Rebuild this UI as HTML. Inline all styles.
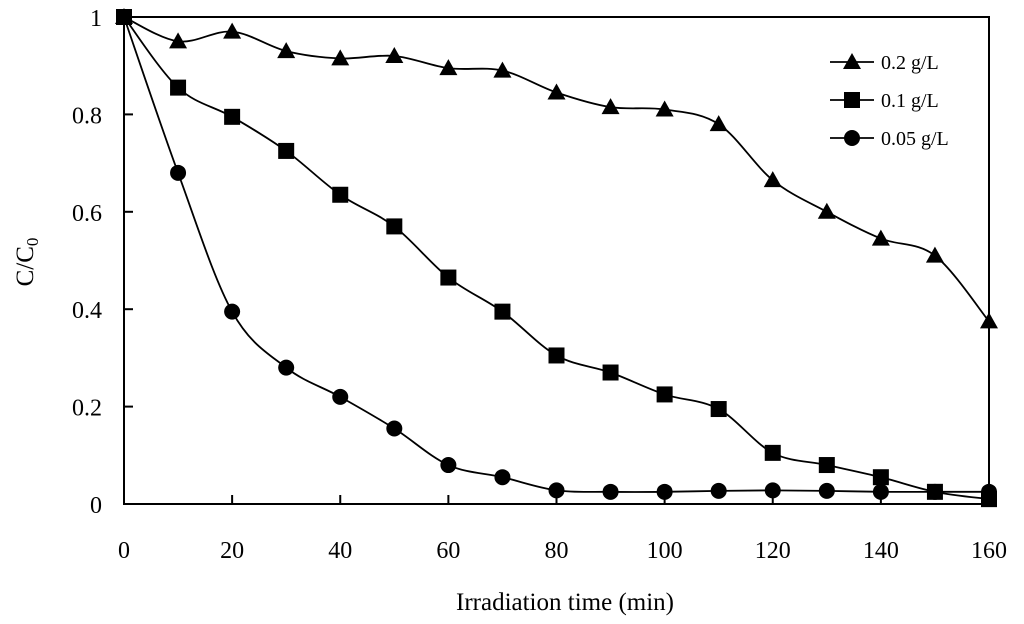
<!DOCTYPE html>
<html><head><meta charset="utf-8">
<style>
html,body{margin:0;padding:0;background:#fff;}
svg{display:block;font-family:"Liberation Serif",serif;}
</style></head>
<body>
<svg id="chart" width="1024" height="624" viewBox="0 0 1024 624" xmlns="http://www.w3.org/2000/svg">
<g id="axes"></g>
<g id="series"></g>
<g id="legend"></g>
</svg>
<script>
const times = [0,10,20,30,40,50,60,70,80,90,100,110,120,130,140,150,160];
const seriesTri = [1,0.95,0.97,0.93,0.915,0.92,0.895,0.89,0.845,0.815,0.81,0.78,0.665,0.60,0.545,0.51,0.375];
const seriesSq = [1,0.855,0.795,0.725,0.635,0.57,0.465,0.395,0.305,0.27,0.225,0.195,0.105,0.08,0.055,0.025,0.01];
const seriesCirc = [1,0.68,0.395,0.28,0.22,0.155,0.08,0.055,0.028,0.025,0.025,0.027,0.028,0.027,0.025,0.025,0.025];
const xTicks = [0,20,40,60,80,100,120,140,160];
const yTicks = [0,0.2,0.4,0.6,0.8,1];
const yTickLabels = ["0","0.2","0.4","0.6","0.8","1"];
const legendLabels = ["0.2 g/L","0.1 g/L","0.05 g/L"];

const NS="http://www.w3.org/2000/svg";
const X0=124,X1=989,Y0=504,Y1=17;
const sx=v=>X0+(v-0)/(160-0)*(X1-X0);
const sy=v=>Y0-(v-0)/(1-0)*(Y0-Y1);
function mk(tag,attrs,parent){const e=document.createElementNS(NS,tag);for(const k in attrs)e.setAttribute(k,attrs[k]);parent.appendChild(e);return e;}
const axes=document.getElementById('axes');
const frame=mk('rect',{x:X0,y:Y1,width:X1-X0,height:Y0-Y1,fill:'none',stroke:'#000','stroke-width':2},axes);


xTicks.forEach(t=>{
  const l=mk('line',{x1:sx(t),x2:sx(t),y1:Y0,y2:Y0-9,stroke:'#000','stroke-width':2},axes);
  
  
  const tx=mk('text',{x:sx(t),y:558,'text-anchor':'middle','font-size':24},axes);
  tx.textContent=t;
  
  
});
yTicks.forEach((t,i)=>{
  const l=mk('line',{x1:X0,x2:X0+9,y1:sy(t),y2:sy(t),stroke:'#000','stroke-width':2},axes);
  
  
  const tx=mk('text',{x:102,y:sy(t)+9,'text-anchor':'end','font-size':24},axes);
  tx.textContent=yTickLabels[i];
  
  
});
const xt=mk('text',{x:565,y:610,'text-anchor':'middle','font-size':25},axes);
xt.textContent='Irradiation time (min)';


const yt=mk('text',{x:0,y:0,'text-anchor':'middle','font-size':25,transform:'translate(33,262) rotate(-90)'},axes);
yt.innerHTML='C/C<tspan font-size="17" dy="5">0</tspan>';



function smoothPath(xs,ys){
  const p=xs.map((x,i)=>[sx(x),sy(ys[i])]);
  let d=`M${p[0][0]},${p[0][1]}`;
  for(let i=0;i<p.length-1;i++){
    const a=p[Math.max(0,i-1)],b=p[i],c=p[i+1],e=p[Math.min(p.length-1,i+2)];
    const t=1/6;
    d+=` C${b[0]+(c[0]-a[0])*t},${b[1]+(c[1]-a[1])*t} ${c[0]-(e[0]-b[0])*t},${c[1]-(e[1]-b[1])*t} ${c[0]},${c[1]}`;
  }
  return d;
}
function marker(kind,x,y,parent){
  let m;
  if(kind==='tri') m=mk('polygon',{points:`${x},${y-9} ${x-9},${y+7} ${x+9},${y+7}`,fill:'#000'},parent);
  else if(kind==='sq') m=mk('rect',{x:x-8,y:y-8,width:16,height:16,fill:'#000'},parent);
  else m=mk('circle',{cx:x,cy:y,r:8,fill:'#000'},parent);
  return m;
}
const sg=document.getElementById('series');
const all=[['tri',seriesTri,'series-0-2gL'],['sq',seriesSq,'series-0-1gL'],['circ',seriesCirc,'series-0-05gL']];
all.forEach(([k,vals,name])=>{
  const g=mk('g',{},sg);
  
  
  const p=mk('path',{d:smoothPath(times,vals),fill:'none',stroke:'#000','stroke-width':1.8},g);
  
  
  vals.forEach((v,i)=>{
    const m=marker(k,sx(times[i]),sy(v),g);
    
    
  });
});
const lg=document.getElementById('legend');
all.forEach(([k],i)=>{
  const y=62+i*38;
  const g=mk('g',{},lg);
  
  
  mk('line',{x1:830,x2:874,y1:y,y2:y,stroke:'#000','stroke-width':1.8},g);
  marker(k,852,y,g);
  const t=mk('text',{x:881,y:y+7,'font-size':20},g);
  t.textContent=legendLabels[i];
});
</script>
</body></html>
